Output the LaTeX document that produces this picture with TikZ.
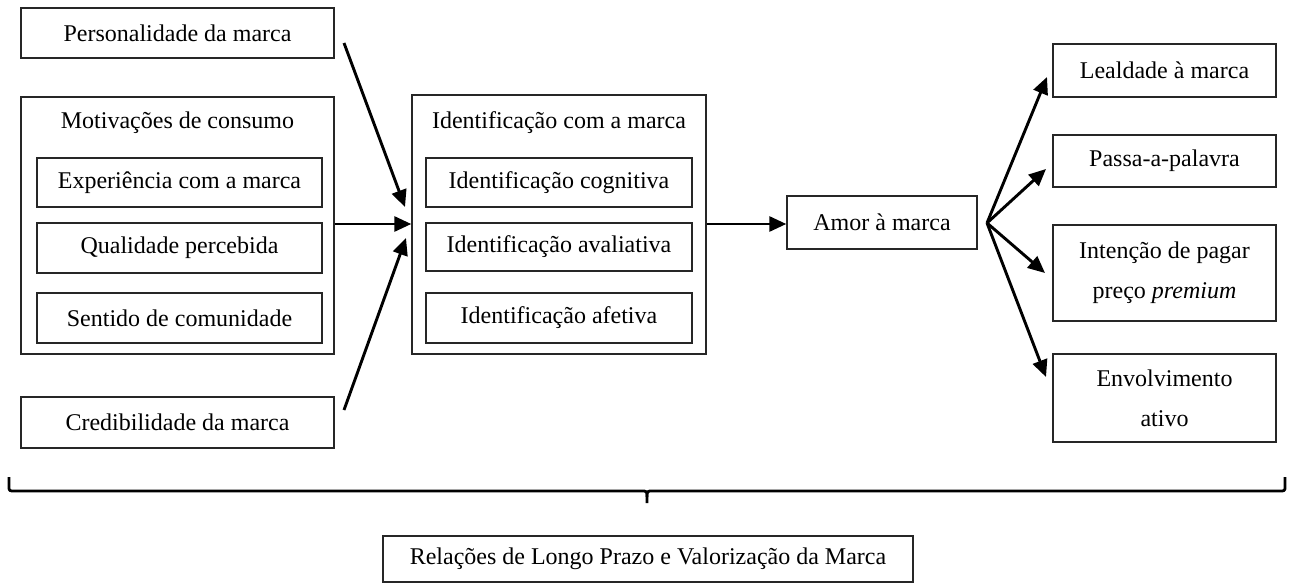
\documentclass[tikz,border=0pt]{standalone}
\usepackage{fontspec}
\setmainfont{Liberation Serif}
\usetikzlibrary{arrows.meta}
\begin{document}
\begin{tikzpicture}[x=1pt,y=-1pt,
  box/.style={draw=black!85,line width=1.4pt,inner sep=0pt,align=center,
    font=\fontsize{24}{40}\selectfont},
  plain/.style={inner sep=0pt,font=\fontsize{24}{40}\selectfont},
  arr/.style={line width=2.9pt,-{Triangle[length=17pt,width=15pt]}}]
\useasboundingbox (0,0) rectangle (1290,583);
% left column
\node[box,minimum width=313pt,minimum height=50pt] (pers) at (177.5,33) {Personalidade da marca};
\node[box,minimum width=313pt,minimum height=257pt] (motiv) at (177.5,225.5) {};
\node[plain] (motivT) at (177.5,123) {Motivações de consumo};
\node[box,minimum width=285pt,minimum height=49pt] (exp) at (179.5,182.5) {Experiência com a marca};
\node[box,minimum width=285pt,minimum height=50pt] (qual) at (179.5,248) {Qualidade percebida};
\node[box,minimum width=285pt,minimum height=50pt] (sent) at (179.5,318) {Sentido de comunidade};
\node[box,minimum width=313pt,minimum height=51pt] (cred) at (177.5,422.5) {Credibilidade da marca};
% middle
\node[box,minimum width=294pt,minimum height=259pt] (ident) at (559,224.5) {};
\node[plain] (identT) at (559,123) {Identificação com a marca};
\node[box,minimum width=266pt,minimum height=49pt] (cog) at (559,182.5) {Identificação cognitiva};
\node[box,minimum width=266pt,minimum height=48pt] (aval) at (559,247) {Identificação avaliativa};
\node[box,minimum width=266pt,minimum height=50pt] (afet) at (559,318) {Identificação afetiva};
\node[box,minimum width=190pt,minimum height=53pt] (amor) at (882,222.5) {Amor à marca};
% right column
\node[box,minimum width=223pt,minimum height=53pt] (leal) at (1164.5,70.5) {Lealdade à marca};
\node[box,minimum width=223pt,minimum height=52pt] (passa) at (1164.5,161) {Passa-a-palavra};
\node[box,minimum width=223pt,minimum height=96pt] (inten) at (1164.5,273) {Intenção de pagar\\preço \textit{premium}};
\node[box,minimum width=223pt,minimum height=88pt] (envol) at (1164.5,398) {Envolvimento\\ativo};
% bottom
\node[box,minimum width=530pt,minimum height=46pt] (rel) at (648,559) {Relações de Longo Prazo e Valorização da Marca};
% connector coordinates
\coordinate (pS) at (344,43);
\coordinate (pE) at (405,207);
\coordinate (cS) at (344,410);
\coordinate (cE) at (406,238);
\coordinate (fan) at (987,223);
\coordinate (t1) at (1047,77);
\coordinate (t2) at (1046,169);
\coordinate (t3) at (1045,273);
\coordinate (t4) at (1046,377);
% arrows
\draw[arr] (pS) -- (pE);
\draw[arr] (cS) -- (cE);
\draw[arr] (motiv.east |- 0,224) -- (ident.west |- 0,224);
\draw[arr] (ident.east |- 0,224) -- (amor.west |- 0,224);
\draw[arr] (fan) -- (t1);
\draw[arr] (fan) -- (t2);
\draw[arr] (fan) -- (t3);
\draw[arr] (fan) -- (t4);
% brace
\draw[line width=2.8pt,line join=round]
  (9,477) -- (9,486)
  .. controls (9,491) .. (15,491) -- (641,491)
  .. controls (647,491) .. (647,497) -- (647,503);
\draw[line width=2.8pt,line join=round]
  (1285,477) -- (1285,486)
  .. controls (1285,491) .. (1279,491) -- (653,491)
  .. controls (647,491) .. (647,497);
\end{tikzpicture}
\end{document}
